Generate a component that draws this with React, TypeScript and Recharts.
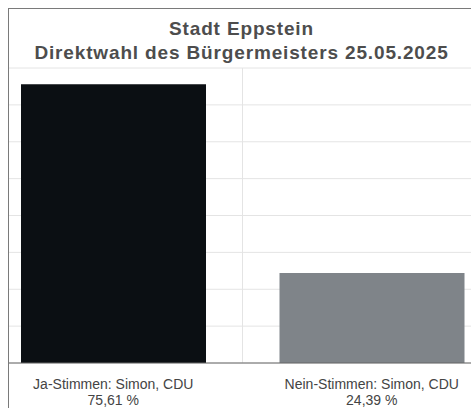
import { BarChart, Bar, XAxis, YAxis, CartesianGrid, Cell } from "recharts";

const CATEGORIES = ["Ja-Stimmen: Simon, CDU", "Nein-Stimmen: Simon, CDU"];
const VALUES = [75.61, 24.39];
const BAR_COLORS = ["#0b0f13", "#7f8489"];
const Y_TICKS = [0, 10, 20, 30, 40, 50, 60, 70, 80];
const TITLE = ["Stadt Eppstein", "Direktwahl des Bürgermeisters 25.05.2025"];

const data = CATEGORIES.map((name, i) => ({ name, value: VALUES[i] }));

const FONT = "'Liberation Sans', Arial, Helvetica, sans-serif";

const fmt = (v: number) => v.toFixed(2).replace(".", ",") + " %";

function TwoLineTick(props: any) {
  const { x, y, payload } = props;
  const i = CATEGORIES.indexOf(payload.value);
  return (
    <text x={x} textAnchor="middle" fontFamily={FONT} fontSize={14} fill="#444">
      <tspan x={x} y={y + 18}>{payload.value}</tspan>
      <tspan x={x} y={y + 34}>{fmt(VALUES[i])}</tspan>
    </text>
  );
}

export default function App() {
  return (
    <div style={{ position: "fixed", left: 0, top: 0, width: 471, height: 408, overflow: "hidden", background: "#fff" }}>
      <div
        style={{
          position: "absolute", left: 8, top: 8, width: 467, height: 410,
          borderLeft: "1px solid #7a7a7a", borderTop: "1px solid #7a7a7a", overflow: "hidden",
        }}
      >
        <div
          style={{
            position: "absolute", left: 0, top: 8, width: 465, textAlign: "center",
            fontFamily: FONT, fontWeight: 700, fontSize: 19, lineHeight: "23.5px",
            letterSpacing: 0.85, color: "#4d4d4d",
          }}
        >
          {TITLE.map((t) => <div key={t}>{t}</div>)}
        </div>
        <div style={{ position: "absolute", left: -25.5, top: 51 }}>
          <BarChart width={517} height={348} data={data} margin={{ top: 8, right: 0, left: 0, bottom: 0 }}>
            <CartesianGrid
              stroke="#e4e4e4"
              verticalCoordinatesGenerator={({ offset }: any) => [offset.left + offset.width / 2]}
            />
            <XAxis
              dataKey="name"
              interval={0}
              height={45}
              tickLine={false}
              axisLine={{ stroke: "#666" }}
              tick={<TwoLineTick />}
            />
            <YAxis hide domain={[0, 80]} ticks={Y_TICKS} />
            <Bar dataKey="value" barSize={185} isAnimationActive={false}>
              {data.map((d, i) => <Cell key={d.name} fill={BAR_COLORS[i]} />)}
            </Bar>
          </BarChart>
        </div>
      </div>
    </div>
  );
}
